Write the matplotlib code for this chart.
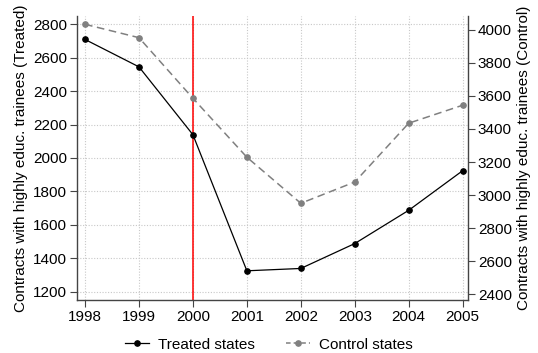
import matplotlib
matplotlib.use("Agg")
import matplotlib.pyplot as plt
from matplotlib.lines import Line2D

years = [1998, 1999, 2000, 2001, 2002, 2003, 2004, 2005]
treated = [2709, 2545, 2139, 1325, 1339, 1488, 1687, 1924]
control = [4034, 3953, 3586, 3229, 2950, 3079, 3435, 3544]
policy_year = 2000

plt.rcParams.update({
    "font.family": ["Liberation Sans", "DejaVu Sans"],
    "font.size": 11,
})

fig = plt.figure(figsize=(5.38, 3.53), dpi=100)
ax1 = fig.add_axes([0.143, 0.150, 0.727, 0.805])
ax2 = ax1.twinx()

ax1.plot(years, treated, "-o", color="black", lw=0.9, ms=3.8, zorder=3)
ax2.plot(years, control, "--o", color="#808080", lw=1.1, ms=3.8,
         dashes=(5, 3), zorder=3)
ax1.axvline(policy_year, color="#ff0000", lw=1.1, zorder=2.5)

ax1.set_xlim(1997.85, 2005.1)
ax1.set_ylim(1150, 2850)
ax2.set_ylim(2364, 4085)
ax1.set_xticks(years)
ax1.set_yticks(range(1200, 2801, 200))
ax2.set_yticks(range(2400, 4001, 200))

ax1.grid(True, color="#c8c8c8", linestyle=(0, (1, 1.5)), lw=0.8)
ax1.set_axisbelow(True)

for ax in (ax1, ax2):
    ax.spines["top"].set_visible(False)
    for s in ("left", "right", "bottom"):
        ax.spines[s].set_color("#444444")
        ax.spines[s].set_linewidth(1.0)
    ax.tick_params(direction="out", length=5, width=0.8, color="#444444",
                   labelsize=11, pad=2)
ax1.spines["right"].set_visible(False)
ax2.spines["left"].set_visible(False)
ax2.spines["bottom"].set_visible(False)

ax1.set_ylabel("Contracts with highly educ. trainees (Treated)", fontsize=11,
               labelpad=4)
ax2.set_ylabel("Contracts with highly educ. trainees (Control)", fontsize=11,
               labelpad=4)

handles = [
    Line2D([], [], color="black", lw=0.9, marker="o", ms=3.8),
    Line2D([], [], color="#808080", lw=1.1, marker="o", ms=3.8, dashes=(3, 2)),
]
fig.legend(handles, ["Treated states", "Control states"], loc="lower center",
           bbox_to_anchor=(0.5, -0.035), ncol=2, frameon=False, fontsize=11,
           handlelength=1.6, handletextpad=0.6, columnspacing=2.0)

fig.savefig("out.png", dpi=100, facecolor="white")
